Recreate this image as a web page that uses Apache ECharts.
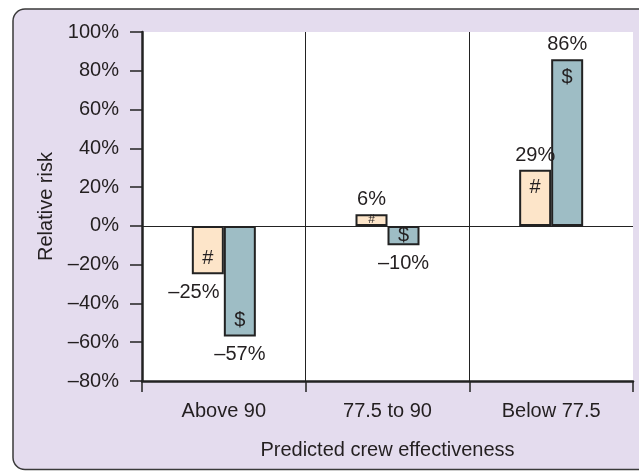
<!DOCTYPE html>
<html>
<head>
<meta charset="utf-8">
<script src="https://cdn.jsdelivr.net/npm/echarts@6/dist/echarts.min.js"></script>
<style>
  html, body { margin: 0; padding: 0; background: #ffffff; }
  #chart { width: 639px; height: 471px; }
</style>
</head>
<body>
<div id="chart"></div>
<script>
// Categories and relative-risk values (percent)
const categories = ['Above 90', '77.5 to 90', 'Below 77.5'];
const hashValues = [-25, 6, 29];
const dollarValues = [-57, -10, 86];
const yTickValues = [-80, -60, -40, -20, 0, 20, 40, 60, 80, 100];

const FONT = '"Liberation Sans", Arial, Helvetica, sans-serif';
const TEXT = '#231f20';
const INK = '#222222';

function fmtPct(v) {
  return (v < 0 ? '\u2013' + Math.abs(v) : String(v)) + '%';
}

// Label for the marker glyph drawn inside each bar
function glyphLabel(v) {
  const small = Math.abs(v) < 15;
  if (small) {
    return { position: 'inside', fontSize: Math.abs(v) < 8 ? 12 : 20, distance: 0 };
  }
  return v >= 0
    ? { position: 'insideTop', distance: 8 }
    : { position: 'insideBottom', distance: 6 };
}

function barSeries(name, values, glyph, fill, otherValues) {
  return {
    type: 'bar',
    name: name,
    barWidth: 32,
    barGap: '0%',
    data: values.map(v => ({ value: v, label: glyphLabel(v) })),
    itemStyle: { color: fill, borderColor: INK, borderWidth: 2 },
    label: {
      show: true,
      formatter: glyph,
      color: TEXT,
      fontFamily: FONT,
      fontSize: 20
    },
    markPoint: {
      symbol: 'rect',
      symbolSize: 1,
      silent: true,
      itemStyle: { color: 'rgba(0,0,0,0)' },
      label: {
        show: true,
        color: TEXT,
        fontFamily: FONT,
        fontSize: 20,
        formatter: p => fmtPct(p.value)
      },
      data: values.map((v, i) => {
        // a negative value beside a deeper neighbour is nudged left of it
        const nudge = v < 0 && otherValues[i] < v - 15 ? -14 : 0;
        return {
          coord: [categories[i], v],
          value: v,
          label: v >= 0
            ? { position: 'top', distance: 4 }
            : { position: 'bottom', distance: 8, offset: [nudge, 0] }
        };
      })
    }
  };
}

const chart = echarts.init(document.getElementById('chart'), null, { renderer: 'canvas' });

const series = [
  barSeries('#', hashValues, '#', '#fde5c9', dollarValues),
  barSeries('$', dollarValues, '$', '#9ebdc5', hashValues)
];
// zero reference line
series[0].markLine = {
  silent: true,
  symbol: 'none',
  label: { show: false },
  lineStyle: { color: INK, width: 1, type: 'solid' },
  data: [{ yAxis: 0 }]
};

chart.setOption({
  animation: false,
  backgroundColor: '#ffffff',
  graphic: [{
    type: 'rect',
    z: -10,
    silent: true,
    shape: { x: 13, y: 9, width: 720, height: 460.5, r: 12 },
    style: { fill: '#e4dcee', stroke: '#3a3a3a', lineWidth: 1.5 }
  }],
  grid: {
    left: 142, right: 6, top: 32, bottom: 90,
    show: true, backgroundColor: '#ffffff', borderWidth: 0
  },
  xAxis: {
    type: 'category',
    data: categories,
    name: 'Predicted crew effectiveness',
    nameLocation: 'middle',
    nameGap: 59,
    nameTextStyle: { color: TEXT, fontFamily: FONT, fontSize: 20 },
    axisLine: { onZero: false, lineStyle: { color: INK, width: 2.5 } },
    axisTick: { show: true, length: 11, lineStyle: { color: INK, width: 1.5 } },
    axisLabel: { color: TEXT, fontFamily: FONT, fontSize: 20, margin: 20 },
    splitLine: {
      show: true,
      showMaxLine: false,
      lineStyle: { color: [INK, INK, INK, 'rgba(0,0,0,0)'], width: 1 }
    }
  },
  yAxis: {
    type: 'value',
    min: yTickValues[0],
    max: yTickValues[yTickValues.length - 1],
    interval: yTickValues[1] - yTickValues[0],
    name: 'Relative risk',
    nameLocation: 'middle',
    nameGap: 84,
    nameTextStyle: { color: TEXT, fontFamily: FONT, fontSize: 20 },
    axisLine: { show: true, lineStyle: { color: INK, width: 2.5 } },
    axisTick: { show: true, length: 12, lineStyle: { color: INK, width: 1.5 } },
    axisLabel: {
      color: TEXT, fontFamily: FONT, fontSize: 20, margin: 23,
      formatter: v => fmtPct(v)
    },
    splitLine: { show: false }
  },
  series: series
});
</script>
</body>
</html>
